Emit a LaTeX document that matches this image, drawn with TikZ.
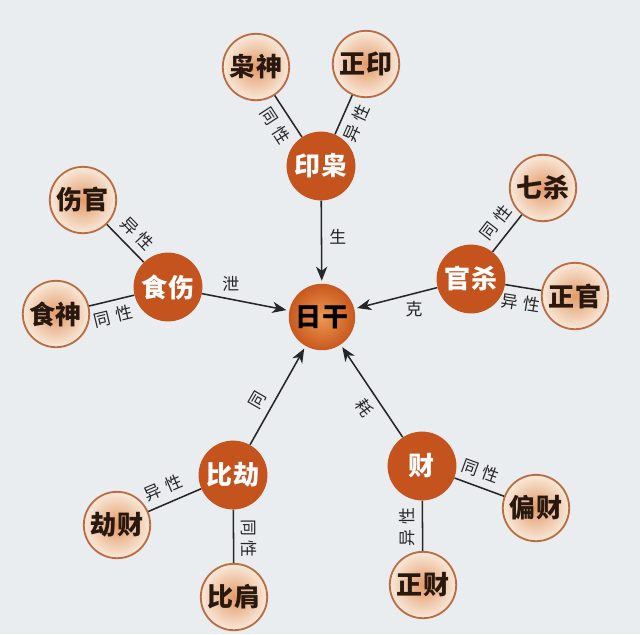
\documentclass[tikz,border=0pt]{standalone}
\usepackage{fontspec}
\newfontfamily\cjk{Noto Sans CJK SC}
\usepackage{tikz}
\usetikzlibrary{arrows.meta,shapes.geometric}
\usepackage{xcolor}
\definecolor{paper}{RGB}{234,237,240}
\definecolor{hubred}{RGB}{196,83,30}
\definecolor{corein}{RGB}{238,152,82}
\definecolor{coreout}{RGB}{200,88,30}
\definecolor{leafin}{RGB}{226,154,104}
\definecolor{leafout}{RGB}{249,233,218}
\definecolor{leafrim}{RGB}{188,108,66}
\definecolor{inkbrown}{RGB}{40,24,14}

\begin{document}
\begin{tikzpicture}[x=0.025cm, y=-0.025cm,
    hub/.style={circle, minimum size=1.72cm, inner sep=0pt, fill=hubred, text=white, font=\cjk\bfseries\fontsize{18.5}{18.5}\selectfont},
    core/.style={circle, minimum size=1.66cm, inner sep=0pt, inner color=corein, outer color=coreout, text=black, font=\cjk\bfseries\fontsize{18.5}{18.5}\selectfont},
    leaf/.style={circle, minimum size=1.66cm, inner sep=0pt, draw=leafrim, line width=1.3pt, inner color=leafin, outer color=leafout, text=inkbrown, font=\cjk\bfseries\fontsize{18.5}{18.5}\selectfont},
    link/.style={line width=1.1pt, black!85},
    flow/.style={link, -{Stealth[length=10pt, width=8pt, inset=3pt]}, shorten >=2pt},
    tag/.style={font=\cjk\fontsize{12}{12}\selectfont, text=black!85, inner sep=5pt}]

% Paper
\fill[paper] (0, 0) rectangle (640, 634);
\useasboundingbox (0, 0) rectangle (640, 634);

% Day master
\node[core] (rigan) at (322, 317) {日干};

% Groups round it
\node[hub] (yinxiao)  at (321, 166) {印枭};
\node[hub] (shishang) at (168, 287) {食伤};
\node[hub] (guansha)  at (471, 279) {官杀};
\node[hub] (bijie)    at (233, 475) {比劫};
\node[hub] (cai)      at (422, 466) {财};

% Single gods
\foreach \name/\x/\y/\txt in {xiaoshen/256/67/枭神, zhengyin/366/64/正印, shangguan/83/200/伤官, shishen/56/314/食神, qisha/543/188/七杀, zhengguan/575/296/正官, jiecai/117/525/劫财, bijian/234/597/比肩, piancai/536/508/偏财, zhengcai/423/585/正财} {
    \node[leaf] (\name) at (\x, \y) {\txt};
}

% Same / other sex links
\foreach \a/\b/\pos/\ang/\anc/\txt in {xiaoshen/yinxiao/0.52/-57/north/同\hspace{0.3em}性, zhengyin/yinxiao/0.55/66/north/异\hspace{0.3em}性, shangguan/shishang/0.53/-46/south/异\hspace{0.3em}性, shishen/shishang/0.45/13.5/north/同\hspace{0.3em}性, qisha/guansha/0.47/52/south/同\hspace{0.3em}性, zhengguan/guansha/0.5/-9/north/异\hspace{0.3em}性, jiecai/bijie/0.4/23/south/异\hspace{0.3em}性, bijian/bijie/0.46/-90/south/同\hspace{0.3em}性, piancai/cai/0.58/-20/south/同\hspace{0.3em}性, zhengcai/cai/0.47/90/south/异\hspace{0.3em}性} {
    \draw[link] (\a) -- (\b) node[tag, pos=\pos, rotate=\ang, anchor=\anc] {\txt};
}

% Arrows into the day master
\foreach \a/\pos/\ang/\anc/\txt in {yinxiao/0.44/0/west/生, shishang/0.33/0/south/泄, guansha/0.28/0/north/克, bijie/0.38/60/south/同, cai/0.41/-56/north/耗} {
    \draw[flow] (\a) -- (rigan) node[tag, pos=\pos, rotate=\ang, anchor=\anc] {\txt};
}

\end{tikzpicture}
\end{document}
